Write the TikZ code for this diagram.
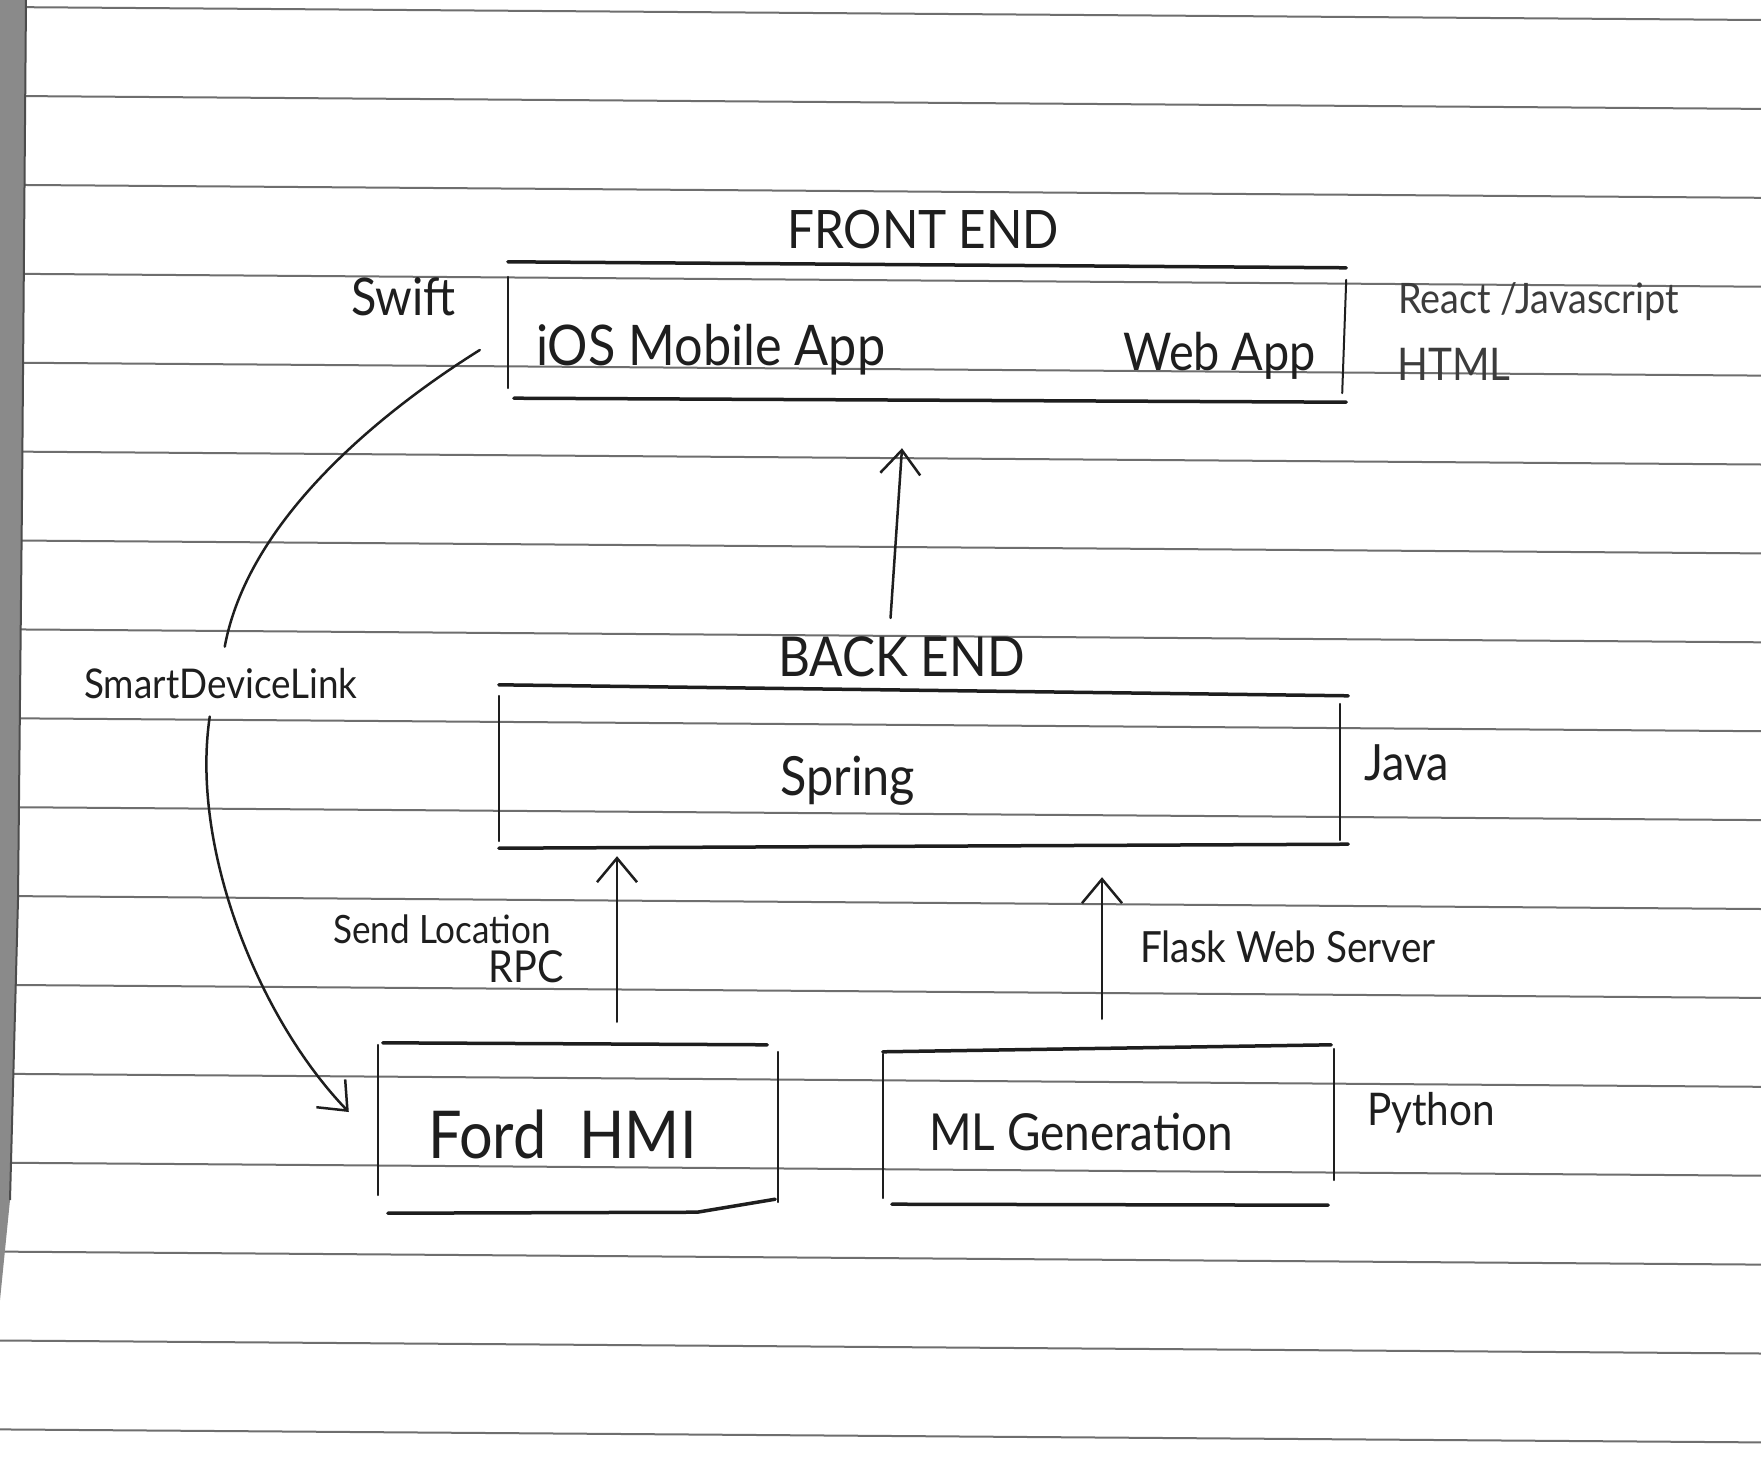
\documentclass[tikz,border=0pt]{standalone}
\usepackage{fontspec}
\setmainfont{Lato}[FakeStretch=0.9]
\usetikzlibrary{arrows.meta}
\definecolor{ink}{HTML}{1E1E1E}
\definecolor{pencil}{HTML}{3C3C3C}
\definecolor{rulecol}{HTML}{6E6E6E}
\definecolor{stripcol}{HTML}{8A8A8A}
\begin{document}
\begin{tikzpicture}[x=1pt,y=-1pt,
  txt/.style={inner sep=0pt, anchor=base west, text=ink},
  txtr/.style={inner sep=0pt, anchor=base east, text=ink},
  fs/.style={font=\fontsize{#1}{#1}\selectfont},
  boxarea/.style={inner sep=0pt, draw=none},
  edge/.style={line width=3.5pt, draw=ink, line cap=round, line join=round},
  side/.style={line width=2pt, draw=ink, line cap=round},
  arr/.style={line width=2.5pt, draw=ink, line cap=round, -{Straight Barb[length=24pt,width=40pt]}},
  rule/.style={line width=2pt, draw=rulecol}]
\useasboundingbox (0,0) rectangle (1761,1477);
\fill[white] (0,0) rectangle (1761,1477);
% ruled paper
\foreach \k in {0,...,16} \draw[rule] (0,{7+88.9*\k}) -- (1761,{20+88.9*\k});
\fill[stripcol] (0,0) -- (26,0) -- (22,500) -- (18,900) -- (10,1200) -- (0,1300) -- cycle;
\draw[line width=2pt, black!70] (26,0) -- (22,500) -- (18,900) -- (10,1200);

% box areas
\node[boxarea, minimum width=838pt, minimum height=139pt] (fe) at (927,333.5) {};
\node[boxarea, minimum width=841pt, minimum height=160pt] (be) at (919.5,768) {};
\node[boxarea, minimum width=400pt, minimum height=168pt] (hmi) at (578,1127) {};
\node[boxarea, minimum width=451pt, minimum height=158pt] (ml) at (1108.5,1126) {};

% front end box
\draw[edge] ([yshift=2pt]fe.north west) -- ([yshift=-4pt]fe.north east);
\draw[edge] ([xshift=6pt,yshift=5pt]fe.south west) -- ([yshift=1pt]fe.south east);
\draw[side] ([yshift=-13pt]fe.north west) -- ([yshift=15pt]fe.south west);
\draw[side] ([yshift=-16pt]fe.north east) -- ([xshift=-4pt,yshift=10pt]fe.south east);
% back end box
\draw[edge] ([yshift=3pt]be.north west) -- ([xshift=8pt,yshift=-8pt]be.north east);
\draw[edge] (be.south west) -- ([xshift=8pt,yshift=4pt]be.south east);
\draw[side] ([yshift=-8pt]be.north west) -- ([yshift=7pt]be.south west);
\draw[side] ([yshift=-16pt]be.north east) -- ([yshift=8pt]be.south east);
% Ford HMI box
\draw[edge] ([xshift=5pt]hmi.north west) -- ([xshift=-11pt,yshift=-2pt]hmi.north east);
\draw[edge] ([xshift=10pt,yshift=-2pt]hmi.south west) -- ([xshift=-81pt,yshift=-1pt]hmi.south east) -- ([xshift=-3pt,yshift=12pt]hmi.south east);
\draw[side] ([yshift=-2pt]hmi.north west) -- ([yshift=16pt]hmi.south west);
\draw[side] ([yshift=-9pt]hmi.north east) -- ([yshift=9pt]hmi.south east);
% ML box
\draw[edge] ([yshift=-5pt]ml.north west) -- ([xshift=-3pt,yshift=2pt]ml.north east);
\draw[edge] ([xshift=9pt,yshift=1pt]ml.south west) -- ([xshift=-6pt]ml.south east);
\draw[side] ([yshift=-7pt]ml.north west) -- ([yshift=7pt]ml.south west);
\draw[side] ([yshift=-2pt]ml.north east) -- ([yshift=25pt]ml.south east);

% texts
\node[txt, fs=53] (fetitle) at (787,248) {FRONT END};
\node[txt, fs=52] (swift) at (351,315) {Swift};
\node[txt, fs=56] (ios) at (536,365) {iOS Mobile App};
\node[txt, fs=52] (web) at (1123,370) {Web App};
\node[txt, fs=42, text=pencil] (react) at (1398,313) {React /Javascript};
\node[txt, fs=45, text=pencil] (html) at (1397,380) {HTML};
\node[txt, fs=55] (belbl) at (778,676) {BACK END};
\node[txt, fs=54] (spring) at (780,795) {Spring};
\node[txt, fs=50] (java) at (1364,780) {Java};
\node[txt, fs=41] (sdl) at (84,698) {SmartDeviceLink};
\node[txtr, fs=39] (sendloc) at (551,943) {Send Location};
\node[txtr, fs=44] (rpc) at (564,982) {RPC};
\node[txt, fs=66] (ford) at (428,1158) {Ford\hspace{0.5em}HMI};
\node[txt, fs=51] (mlgen) at (929,1150) {ML Generation};
\node[txt, fs=45] (python) at (1367,1125) {Python};
\node[txt, fs=43] (flask) at (1140,962) {Flask Web Server};

% connectors
\draw[arr] ([xshift=-11pt,yshift=18pt]belbl.north) -- ([xshift=-25pt,yshift=-45pt]fe.south);
\draw[arr, shorten <=21pt, shorten >=8pt] ([xshift=39pt]hmi.north) -- ([xshift=39pt]hmi.north |- be.south);
\draw[arr, shorten <=28pt, shorten >=29pt] ([xshift=-6.5pt]ml.north) -- ([xshift=-6.5pt]ml.north |- be.south);
\draw[line width=2.5pt, draw=ink, line cap=round]
  ([xshift=-28pt,yshift=-16.5pt]fe.west) .. controls (400,400) and (250,510) .. ([xshift=4pt,yshift=21pt]sdl.north);
\draw[arr]
  ([xshift=-11pt,yshift=-18pt]sdl.south) .. controls (190,850) and (260,1020) .. ([xshift=-29pt,yshift=15pt]hmi.west);
\end{tikzpicture}
\end{document}
